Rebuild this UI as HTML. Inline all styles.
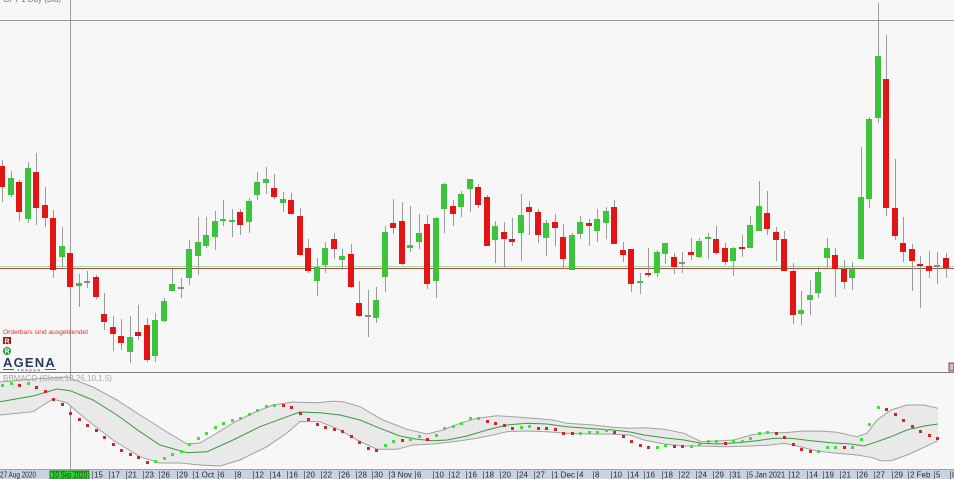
<!DOCTYPE html>
<html><head><meta charset="utf-8"><style>
html,body{margin:0;padding:0;background:#f7f7f7;}
svg{display:block;font-family:"Liberation Sans",sans-serif;}
.w{fill:#9a9a9a}.g{fill:#3cc43c}.r{fill:#e31414}.d{fill:#8a8a8a}
.dg{fill:#3fe03f}.dr{fill:#d42424}
.ax{font-size:8px;fill:#2a2a2a}
</style></head><body>
<svg width="954" height="479" viewBox="0 0 954 479" xmlns="http://www.w3.org/2000/svg" shape-rendering="crispEdges">
<rect x="0" y="0" width="954" height="479" fill="#f7f7f7"/>
<text x="3" y="2" font-size="8" fill="#777" shape-rendering="auto">GFT 1 Day (Bid)</text>
<rect x="0" y="20" width="954" height="1" fill="#9a9a9a"/>
<rect x="0" y="266" width="954" height="1" fill="#9fe09f"/>
<rect x="0" y="268" width="954" height="1" fill="#a84a4a"/>
<rect x="70" y="0" width="1" height="470" fill="#9a9a9a"/>
<g>
<rect class="w" x="2" y="160" width="1" height="42"/><rect class="r" x="-1" y="166" width="6" height="21"/>
<rect class="w" x="11" y="171" width="1" height="26"/><rect class="g" x="8" y="178" width="6" height="17"/>
<rect class="w" x="19" y="180" width="1" height="41"/><rect class="r" x="16" y="182" width="6" height="30"/>
<rect class="w" x="28" y="162" width="1" height="61"/><rect class="g" x="25" y="168" width="6" height="51"/>
<rect class="w" x="36" y="153" width="1" height="72"/><rect class="r" x="33" y="172" width="6" height="36"/>
<rect class="w" x="45" y="187" width="1" height="40"/><rect class="r" x="42" y="205" width="6" height="13"/>
<rect class="w" x="53" y="210" width="1" height="68"/><rect class="r" x="50" y="218" width="6" height="52"/>
<rect class="w" x="62" y="227" width="1" height="40"/><rect class="g" x="59" y="246" width="6" height="11"/>
<rect class="w" x="70" y="253" width="1" height="37"/><rect class="r" x="67" y="253" width="6" height="34"/>
<rect class="w" x="79" y="274" width="1" height="33"/><rect class="g" x="76" y="283" width="6" height="3"/>
<rect class="w" x="87" y="271" width="1" height="17"/><rect class="d" x="84" y="281" width="6" height="2"/>
<rect class="w" x="96" y="275" width="1" height="24"/><rect class="r" x="93" y="277" width="6" height="20"/>
<rect class="w" x="104" y="293" width="1" height="37"/><rect class="r" x="101" y="314" width="6" height="8"/>
<rect class="w" x="113" y="316" width="1" height="35"/><rect class="r" x="110" y="327" width="6" height="7"/>
<rect class="w" x="121" y="319" width="1" height="31"/><rect class="r" x="118" y="336" width="6" height="7"/>
<rect class="w" x="130" y="316" width="1" height="47"/><rect class="g" x="127" y="337" width="6" height="15"/>
<rect class="w" x="138" y="305" width="1" height="35"/><rect class="r" x="135" y="332" width="6" height="4"/>
<rect class="w" x="147" y="318" width="1" height="44"/><rect class="r" x="144" y="325" width="6" height="35"/>
<rect class="w" x="155" y="313" width="1" height="49"/><rect class="g" x="152" y="320" width="6" height="36"/>
<rect class="w" x="164" y="298" width="1" height="24"/><rect class="g" x="161" y="301" width="6" height="20"/>
<rect class="w" x="172" y="269" width="1" height="22"/><rect class="g" x="169" y="284" width="6" height="7"/>
<rect class="w" x="181" y="278" width="1" height="20"/><rect class="d" x="178" y="287" width="6" height="2"/>
<rect class="w" x="189" y="240" width="1" height="45"/><rect class="g" x="186" y="249" width="6" height="29"/>
<rect class="w" x="198" y="217" width="1" height="58"/><rect class="g" x="195" y="242" width="6" height="14"/>
<rect class="w" x="206" y="217" width="1" height="31"/><rect class="g" x="203" y="235" width="6" height="11"/>
<rect class="w" x="215" y="211" width="1" height="39"/><rect class="g" x="212" y="221" width="6" height="16"/>
<rect class="w" x="223" y="200" width="1" height="26"/><rect class="g" x="220" y="219" width="6" height="2"/>
<rect class="w" x="232" y="209" width="1" height="28"/><rect class="g" x="229" y="220" width="6" height="2"/>
<rect class="w" x="240" y="209" width="1" height="26"/><rect class="r" x="237" y="212" width="6" height="13"/>
<rect class="w" x="249" y="198" width="1" height="35"/><rect class="g" x="246" y="201" width="6" height="21"/>
<rect class="w" x="257" y="172" width="1" height="28"/><rect class="g" x="254" y="182" width="6" height="13"/>
<rect class="w" x="266" y="167" width="1" height="27"/><rect class="g" x="263" y="179" width="6" height="4"/>
<rect class="w" x="274" y="174" width="1" height="25"/><rect class="r" x="271" y="188" width="6" height="9"/>
<rect class="w" x="283" y="192" width="1" height="20"/><rect class="g" x="280" y="199" width="6" height="4"/>
<rect class="w" x="291" y="193" width="1" height="21"/><rect class="r" x="288" y="200" width="6" height="14"/>
<rect class="w" x="300" y="208" width="1" height="48"/><rect class="r" x="297" y="216" width="6" height="39"/>
<rect class="w" x="308" y="239" width="1" height="34"/><rect class="r" x="305" y="248" width="6" height="23"/>
<rect class="w" x="317" y="258" width="1" height="38"/><rect class="g" x="314" y="267" width="6" height="14"/>
<rect class="w" x="325" y="242" width="1" height="31"/><rect class="g" x="322" y="248" width="6" height="17"/>
<rect class="w" x="334" y="233" width="1" height="26"/><rect class="r" x="331" y="239" width="6" height="10"/>
<rect class="w" x="342" y="249" width="1" height="21"/><rect class="g" x="339" y="256" width="6" height="4"/>
<rect class="w" x="351" y="244" width="1" height="44"/><rect class="r" x="348" y="254" width="6" height="33"/>
<rect class="w" x="359" y="281" width="1" height="36"/><rect class="r" x="356" y="303" width="6" height="13"/>
<rect class="w" x="368" y="290" width="1" height="47"/><rect class="d" x="365" y="315" width="6" height="2"/>
<rect class="w" x="376" y="287" width="1" height="36"/><rect class="g" x="373" y="300" width="6" height="18"/>
<rect class="w" x="385" y="226" width="1" height="66"/><rect class="g" x="382" y="232" width="6" height="45"/>
<rect class="w" x="393" y="199" width="1" height="35"/><rect class="r" x="390" y="223" width="6" height="5"/>
<rect class="w" x="402" y="202" width="1" height="63"/><rect class="r" x="399" y="221" width="6" height="43"/>
<rect class="w" x="410" y="206" width="1" height="46"/><rect class="g" x="407" y="245" width="6" height="3"/>
<rect class="w" x="419" y="214" width="1" height="35"/><rect class="g" x="416" y="233" width="6" height="9"/>
<rect class="w" x="427" y="215" width="1" height="74"/><rect class="r" x="424" y="224" width="6" height="60"/>
<rect class="w" x="436" y="217" width="1" height="81"/><rect class="g" x="433" y="218" width="6" height="63"/>
<rect class="w" x="444" y="183" width="1" height="50"/><rect class="g" x="441" y="184" width="6" height="25"/>
<rect class="w" x="453" y="200" width="1" height="26"/><rect class="r" x="450" y="206" width="6" height="8"/>
<rect class="w" x="461" y="191" width="1" height="26"/><rect class="g" x="458" y="194" width="6" height="13"/>
<rect class="w" x="470" y="179" width="1" height="33"/><rect class="g" x="467" y="179" width="6" height="10"/>
<rect class="w" x="478" y="184" width="1" height="24"/><rect class="r" x="475" y="187" width="6" height="18"/>
<rect class="w" x="487" y="195" width="1" height="51"/><rect class="r" x="484" y="197" width="6" height="49"/>
<rect class="w" x="495" y="221" width="1" height="42"/><rect class="g" x="492" y="226" width="6" height="14"/>
<rect class="w" x="504" y="222" width="1" height="47"/><rect class="r" x="501" y="232" width="6" height="7"/>
<rect class="w" x="512" y="218" width="1" height="28"/><rect class="r" x="509" y="239" width="6" height="3"/>
<rect class="w" x="521" y="194" width="1" height="67"/><rect class="g" x="518" y="215" width="6" height="18"/>
<rect class="w" x="529" y="201" width="1" height="34"/><rect class="r" x="526" y="207" width="6" height="5"/>
<rect class="w" x="538" y="209" width="1" height="34"/><rect class="r" x="535" y="212" width="6" height="23"/>
<rect class="w" x="546" y="220" width="1" height="36"/><rect class="g" x="543" y="223" width="6" height="15"/>
<rect class="w" x="555" y="214" width="1" height="32"/><rect class="r" x="552" y="222" width="6" height="6"/>
<rect class="w" x="563" y="224" width="1" height="45"/><rect class="r" x="560" y="237" width="6" height="22"/>
<rect class="w" x="572" y="233" width="1" height="37"/><rect class="g" x="569" y="235" width="6" height="35"/>
<rect class="w" x="580" y="216" width="1" height="23"/><rect class="g" x="577" y="222" width="6" height="12"/>
<rect class="w" x="589" y="219" width="1" height="27"/><rect class="r" x="586" y="223" width="6" height="3"/>
<rect class="w" x="597" y="209" width="1" height="33"/><rect class="g" x="594" y="219" width="6" height="12"/>
<rect class="w" x="606" y="207" width="1" height="32"/><rect class="g" x="603" y="211" width="6" height="12"/>
<rect class="w" x="614" y="200" width="1" height="44"/><rect class="r" x="611" y="207" width="6" height="37"/>
<rect class="w" x="623" y="242" width="1" height="20"/><rect class="r" x="620" y="250" width="6" height="5"/>
<rect class="w" x="631" y="249" width="1" height="43"/><rect class="r" x="628" y="249" width="6" height="35"/>
<rect class="w" x="640" y="273" width="1" height="21"/><rect class="g" x="637" y="281" width="6" height="2"/>
<rect class="w" x="648" y="248" width="1" height="29"/><rect class="r" x="645" y="273" width="6" height="2"/>
<rect class="w" x="657" y="250" width="1" height="27"/><rect class="g" x="654" y="252" width="6" height="21"/>
<rect class="w" x="665" y="243" width="1" height="21"/><rect class="g" x="662" y="243" width="6" height="11"/>
<rect class="w" x="674" y="253" width="1" height="21"/><rect class="r" x="671" y="257" width="6" height="10"/>
<rect class="w" x="682" y="252" width="1" height="21"/><rect class="d" x="679" y="262" width="6" height="2"/>
<rect class="w" x="691" y="238" width="1" height="22"/><rect class="r" x="688" y="252" width="6" height="3"/>
<rect class="w" x="699" y="238" width="1" height="20"/><rect class="g" x="696" y="241" width="6" height="16"/>
<rect class="w" x="708" y="233" width="1" height="26"/><rect class="g" x="705" y="237" width="6" height="2"/>
<rect class="w" x="716" y="226" width="1" height="28"/><rect class="r" x="713" y="239" width="6" height="14"/>
<rect class="w" x="725" y="243" width="1" height="22"/><rect class="r" x="722" y="248" width="6" height="14"/>
<rect class="w" x="733" y="247" width="1" height="29"/><rect class="g" x="730" y="248" width="6" height="13"/>
<rect class="w" x="742" y="235" width="1" height="22"/><rect class="r" x="739" y="247" width="6" height="2"/>
<rect class="w" x="750" y="216" width="1" height="32"/><rect class="g" x="747" y="225" width="6" height="23"/>
<rect class="w" x="759" y="181" width="1" height="50"/><rect class="g" x="756" y="206" width="6" height="25"/>
<rect class="w" x="767" y="191" width="1" height="44"/><rect class="r" x="764" y="213" width="6" height="16"/>
<rect class="w" x="776" y="227" width="1" height="34"/><rect class="r" x="773" y="232" width="6" height="8"/>
<rect class="w" x="784" y="231" width="1" height="40"/><rect class="r" x="781" y="239" width="6" height="32"/>
<rect class="w" x="793" y="263" width="1" height="61"/><rect class="r" x="790" y="271" width="6" height="44"/>
<rect class="w" x="801" y="291" width="1" height="34"/><rect class="g" x="798" y="310" width="6" height="4"/>
<rect class="w" x="810" y="280" width="1" height="35"/><rect class="g" x="807" y="295" width="6" height="5"/>
<rect class="w" x="818" y="267" width="1" height="31"/><rect class="g" x="815" y="272" width="6" height="21"/>
<rect class="w" x="827" y="238" width="1" height="31"/><rect class="g" x="824" y="248" width="6" height="10"/>
<rect class="w" x="835" y="248" width="1" height="49"/><rect class="r" x="832" y="255" width="6" height="14"/>
<rect class="w" x="844" y="260" width="1" height="29"/><rect class="r" x="841" y="269" width="6" height="13"/>
<rect class="w" x="852" y="262" width="1" height="28"/><rect class="g" x="849" y="269" width="6" height="9"/>
<rect class="w" x="861" y="147" width="1" height="112"/><rect class="g" x="858" y="197" width="6" height="62"/>
<rect class="w" x="869" y="117" width="1" height="91"/><rect class="g" x="866" y="119" width="6" height="80"/>
<rect class="w" x="878" y="3" width="1" height="120"/><rect class="g" x="875" y="56" width="6" height="62"/>
<rect class="w" x="886" y="35" width="1" height="181"/><rect class="r" x="883" y="79" width="6" height="129"/>
<rect class="w" x="895" y="159" width="1" height="81"/><rect class="r" x="892" y="208" width="6" height="28"/>
<rect class="w" x="903" y="217" width="1" height="45"/><rect class="r" x="900" y="243" width="6" height="9"/>
<rect class="w" x="912" y="244" width="1" height="47"/><rect class="r" x="909" y="249" width="6" height="12"/>
<rect class="w" x="920" y="256" width="1" height="52"/><rect class="r" x="917" y="264" width="6" height="2"/>
<rect class="w" x="929" y="251" width="1" height="27"/><rect class="r" x="926" y="266" width="6" height="5"/>
<rect class="w" x="937" y="252" width="1" height="32"/><rect class="d" x="934" y="265" width="6" height="2"/>
<rect class="w" x="946" y="253" width="1" height="25"/><rect class="r" x="943" y="258" width="6" height="10"/>
</g>
<g shape-rendering="auto">
<text x="3" y="334" font-size="6.6" fill="#e03030">Orderbars sind ausgeblendet</text>
<rect x="3" y="337" width="8" height="7" fill="#9b1b1b"/>
<text x="7" y="343.5" font-size="7" font-weight="bold" fill="#fff" text-anchor="middle">R</text>
<circle cx="7" cy="351" r="4" fill="#2a9a3a"/>
<text x="7" y="353.6" font-size="7" font-weight="bold" fill="#fff" text-anchor="middle">R</text>
<text x="3" y="367" font-size="13" font-weight="bold" fill="#2b3a5c" letter-spacing="1.2">AGENA</text>
<rect x="3" y="369" width="11" height="0.8" fill="#2b3a5c"/>
<rect x="45" y="369" width="11" height="0.8" fill="#2b3a5c"/>
<text x="29.5" y="371.3" font-size="3.6" fill="#2b3a5c" text-anchor="middle" letter-spacing="1.6">TRADER</text>
</g>
<rect x="0" y="372" width="954" height="1" fill="#808080"/>
<rect x="949" y="363" width="5" height="8" fill="#e8b0b8" stroke="#555" stroke-width="1"/>
<g shape-rendering="auto">
<polygon fill="#e9e9e9" points="0,382 33,379 67,377 93,387 117,400 140,415 167,432 187,444 200,443 217,433 233,423 253,413 273,405 293,402 317,402.7 333,401.3 343,401.7 360,406.7 383,420 407,429.3 427,434 443,430 460,423.3 477,418.3 497,415.7 513,416.7 533,418.3 553,420 567,423.3 593,425 613,427.3 630,428.3 644,427.7 664,429.3 684,433.3 701,441.7 717,441 734,440 751,435 767,432.7 784,432.7 804,431 824,431.3 837,432.3 857,436.7 867,433.3 877,420 891,410 907,405 924,405 938,408.3 938,440.7 924,447.3 907,455 891,460.7 881,460.7 871,457.3 857,455 837,453.3 817,451 797,446 784,443.3 771,445 751,446 724,446.7 701,446 684,446 664,444 644,440 630,435 613,434.3 593,434 567,433.3 547,431.7 527,431 507,431.7 493,435 477,438.3 453,441.7 433,444 413,445 397,449.3 377,449.3 357,440 340,430 320,421.7 300,421.5 287,433 267,446.7 240,460 220,466 200,465 180,463 160,463 140,456.7 113,440 87,420 67,403 53,399 33,411.7 0,415"/>
<polyline fill="none" stroke="#a0a0a0" stroke-width="1" points="0,382 33,379 67,377 93,387 117,400 140,415 167,432 187,444 200,443 217,433 233,423 253,413 273,405 293,402 317,402.7 333,401.3 343,401.7 360,406.7 383,420 407,429.3 427,434 443,430 460,423.3 477,418.3 497,415.7 513,416.7 533,418.3 553,420 567,423.3 593,425 613,427.3 630,428.3 644,427.7 664,429.3 684,433.3 701,441.7 717,441 734,440 751,435 767,432.7 784,432.7 804,431 824,431.3 837,432.3 857,436.7 867,433.3 877,420 891,410 907,405 924,405 938,408.3"/>
<polyline fill="none" stroke="#a0a0a0" stroke-width="1" points="0,415 33,411.7 53,399 67,403 87,420 113,440 140,456.7 160,463 180,463 200,465 220,466 240,460 267,446.7 287,433 300,421.5 320,421.7 340,430 357,440 377,449.3 397,449.3 413,445 433,444 453,441.7 477,438.3 493,435 507,431.7 527,431 547,431.7 567,433.3 593,434 613,434.3 630,435 644,440 664,444 684,446 701,446 724,446.7 751,446 771,445 784,443.3 797,446 817,451 837,453.3 857,455 871,457.3 881,460.7 891,460.7 907,455 924,447.3 938,440.7"/>
<polyline fill="none" stroke="#3c9a3c" stroke-width="1" points="0,401.7 33,396 57,389 70,390.7 93,400 117,415 140,431.7 160,445 187,452.7 207,451.7 233,440 260,426.7 287,416.7 300,412 320,412.7 340,415 360,420 380,428.3 400,436 417,439.3 433,440.7 447,440 467,436 487,430 507,425 527,423.3 547,424 567,426.7 593,428.7 613,430 630,432 644,435 664,437.7 684,440 701,443.3 717,444 737,442.7 757,440.7 774,438.3 791,438.3 811,440.7 831,442.7 851,444 864,446 877,441.7 891,436.7 907,430 924,426 938,424"/>
<text x="3" y="381" font-size="8" fill="#a8a8a8">BBMACD (Close,12,26,10,1.5)</text>
</g>
<g>
<rect class="dg" x="1" y="384" width="3" height="3"/>
<rect class="dg" x="10" y="382" width="3" height="3"/>
<rect class="dr" x="18" y="384" width="3" height="3"/>
<rect class="dg" x="27" y="382" width="3" height="3"/>
<rect class="dr" x="35" y="386" width="3" height="3"/>
<rect class="dr" x="44" y="390" width="3" height="3"/>
<rect class="dr" x="52" y="398" width="3" height="3"/>
<rect class="dr" x="61" y="403" width="3" height="3"/>
<rect class="dr" x="69" y="412" width="3" height="3"/>
<rect class="dr" x="78" y="418" width="3" height="3"/>
<rect class="dr" x="86" y="424" width="3" height="3"/>
<rect class="dr" x="95" y="429" width="3" height="3"/>
<rect class="dr" x="103" y="436" width="3" height="3"/>
<rect class="dr" x="112" y="443" width="3" height="3"/>
<rect class="dr" x="120" y="449" width="3" height="3"/>
<rect class="dr" x="129" y="453" width="3" height="3"/>
<rect class="dr" x="137" y="456" width="3" height="3"/>
<rect class="dr" x="146" y="461" width="3" height="3"/>
<rect class="dg" x="154" y="460" width="3" height="3"/>
<rect class="dg" x="163" y="457" width="3" height="3"/>
<rect class="dg" x="171" y="453" width="3" height="3"/>
<rect class="dg" x="180" y="450" width="3" height="3"/>
<rect class="dg" x="188" y="443" width="3" height="3"/>
<rect class="dg" x="197" y="437" width="3" height="3"/>
<rect class="dg" x="205" y="432" width="3" height="3"/>
<rect class="dg" x="214" y="426" width="3" height="3"/>
<rect class="dg" x="222" y="422" width="3" height="3"/>
<rect class="dg" x="231" y="419" width="3" height="3"/>
<rect class="dg" x="239" y="417" width="3" height="3"/>
<rect class="dg" x="248" y="413" width="3" height="3"/>
<rect class="dg" x="256" y="409" width="3" height="3"/>
<rect class="dg" x="265" y="405" width="3" height="3"/>
<rect class="dg" x="273" y="404" width="3" height="3"/>
<rect class="dr" x="282" y="404" width="3" height="3"/>
<rect class="dr" x="290" y="406" width="3" height="3"/>
<rect class="dr" x="299" y="412" width="3" height="3"/>
<rect class="dr" x="307" y="418" width="3" height="3"/>
<rect class="dr" x="316" y="423" width="3" height="3"/>
<rect class="dr" x="324" y="426" width="3" height="3"/>
<rect class="dr" x="333" y="428" width="3" height="3"/>
<rect class="dr" x="341" y="430" width="3" height="3"/>
<rect class="dr" x="350" y="435" width="3" height="3"/>
<rect class="dr" x="358" y="441" width="3" height="3"/>
<rect class="dr" x="367" y="447" width="3" height="3"/>
<rect class="dr" x="375" y="449" width="3" height="3"/>
<rect class="dg" x="384" y="444" width="3" height="3"/>
<rect class="dg" x="392" y="440" width="3" height="3"/>
<rect class="dr" x="401" y="439" width="3" height="3"/>
<rect class="dg" x="409" y="438" width="3" height="3"/>
<rect class="dg" x="418" y="435" width="3" height="3"/>
<rect class="dr" x="426" y="438" width="3" height="3"/>
<rect class="dg" x="435" y="434" width="3" height="3"/>
<rect class="dg" x="443" y="427" width="3" height="3"/>
<rect class="dg" x="452" y="425" width="3" height="3"/>
<rect class="dg" x="460" y="422" width="3" height="3"/>
<rect class="dg" x="469" y="417" width="3" height="3"/>
<rect class="dg" x="477" y="417" width="3" height="3"/>
<rect class="dr" x="486" y="420" width="3" height="3"/>
<rect class="dr" x="494" y="422" width="3" height="3"/>
<rect class="dr" x="503" y="424" width="3" height="3"/>
<rect class="dr" x="511" y="427" width="3" height="3"/>
<rect class="dg" x="520" y="426" width="3" height="3"/>
<rect class="dg" x="528" y="425" width="3" height="3"/>
<rect class="dr" x="537" y="427" width="3" height="3"/>
<rect class="dr" x="545" y="427" width="3" height="3"/>
<rect class="dr" x="554" y="428" width="3" height="3"/>
<rect class="dr" x="562" y="432" width="3" height="3"/>
<rect class="dr" x="571" y="432" width="3" height="3"/>
<rect class="dg" x="579" y="432" width="3" height="3"/>
<rect class="dg" x="588" y="431" width="3" height="3"/>
<rect class="dg" x="596" y="431" width="3" height="3"/>
<rect class="dg" x="605" y="429" width="3" height="3"/>
<rect class="dr" x="613" y="431" width="3" height="3"/>
<rect class="dr" x="622" y="435" width="3" height="3"/>
<rect class="dr" x="630" y="440" width="3" height="3"/>
<rect class="dr" x="639" y="444" width="3" height="3"/>
<rect class="dr" x="647" y="446" width="3" height="3"/>
<rect class="dg" x="656" y="446" width="3" height="3"/>
<rect class="dg" x="664" y="444" width="3" height="3"/>
<rect class="dr" x="673" y="445" width="3" height="3"/>
<rect class="dr" x="681" y="445" width="3" height="3"/>
<rect class="dg" x="690" y="445" width="3" height="3"/>
<rect class="dg" x="698" y="443" width="3" height="3"/>
<rect class="dg" x="707" y="440" width="3" height="3"/>
<rect class="dg" x="715" y="440" width="3" height="3"/>
<rect class="dr" x="724" y="442" width="3" height="3"/>
<rect class="dg" x="732" y="440" width="3" height="3"/>
<rect class="dg" x="741" y="440" width="3" height="3"/>
<rect class="dg" x="749" y="437" width="3" height="3"/>
<rect class="dg" x="758" y="432" width="3" height="3"/>
<rect class="dg" x="766" y="431" width="3" height="3"/>
<rect class="dr" x="775" y="432" width="3" height="3"/>
<rect class="dr" x="783" y="436" width="3" height="3"/>
<rect class="dr" x="792" y="443" width="3" height="3"/>
<rect class="dr" x="800" y="448" width="3" height="3"/>
<rect class="dr" x="809" y="450" width="3" height="3"/>
<rect class="dg" x="817" y="450" width="3" height="3"/>
<rect class="dg" x="826" y="446" width="3" height="3"/>
<rect class="dg" x="834" y="446" width="3" height="3"/>
<rect class="dr" x="843" y="446" width="3" height="3"/>
<rect class="dg" x="851" y="446" width="3" height="3"/>
<rect class="dg" x="860" y="438" width="3" height="3"/>
<rect class="dg" x="868" y="423" width="3" height="3"/>
<rect class="dg" x="877" y="406" width="3" height="3"/>
<rect class="dr" x="885" y="408" width="3" height="3"/>
<rect class="dr" x="894" y="413" width="3" height="3"/>
<rect class="dr" x="902" y="419" width="3" height="3"/>
<rect class="dr" x="911" y="425" width="3" height="3"/>
<rect class="dr" x="919" y="430" width="3" height="3"/>
<rect class="dr" x="928" y="434" width="3" height="3"/>
<rect class="dr" x="936" y="437" width="3" height="3"/>
</g>
<rect x="0" y="469" width="954" height="10" fill="#c9d2e3"/>
<rect x="0" y="469" width="954" height="1" fill="#9aa3b3"/>
<rect x="50" y="471" width="39" height="8" fill="#22dd22" stroke="#1a7a1a" stroke-width="1"/>
<g fill="#6a6f7a">
<rect x="92" y="471" width="1" height="8"/><rect x="109" y="471" width="1" height="8"/><rect x="126" y="471" width="1" height="8"/><rect x="143" y="471" width="1" height="8"/><rect x="159" y="471" width="1" height="8"/><rect x="177" y="471" width="1" height="8"/><rect x="193" y="471" width="1" height="8"/><rect x="218" y="471" width="1" height="8"/><rect x="235" y="471" width="1" height="8"/><rect x="253" y="471" width="1" height="8"/><rect x="270" y="471" width="1" height="8"/><rect x="287" y="471" width="1" height="8"/><rect x="304" y="471" width="1" height="8"/><rect x="321" y="471" width="1" height="8"/><rect x="339" y="471" width="1" height="8"/><rect x="356" y="471" width="1" height="8"/><rect x="372" y="471" width="1" height="8"/><rect x="389" y="471" width="1" height="8"/><rect x="415" y="471" width="1" height="8"/><rect x="433" y="471" width="1" height="8"/><rect x="449" y="471" width="1" height="8"/><rect x="466" y="471" width="1" height="8"/><rect x="483" y="471" width="1" height="8"/><rect x="500" y="471" width="1" height="8"/><rect x="517" y="471" width="1" height="8"/><rect x="534" y="471" width="1" height="8"/><rect x="552" y="471" width="1" height="8"/><rect x="577" y="471" width="1" height="8"/><rect x="593" y="471" width="1" height="8"/><rect x="611" y="471" width="1" height="8"/><rect x="628" y="471" width="1" height="8"/><rect x="644" y="471" width="1" height="8"/><rect x="662" y="471" width="1" height="8"/><rect x="679" y="471" width="1" height="8"/><rect x="696" y="471" width="1" height="8"/><rect x="713" y="471" width="1" height="8"/><rect x="730" y="471" width="1" height="8"/><rect x="747" y="471" width="1" height="8"/><rect x="789" y="471" width="1" height="8"/><rect x="807" y="471" width="1" height="8"/><rect x="823" y="471" width="1" height="8"/><rect x="840" y="471" width="1" height="8"/><rect x="857" y="471" width="1" height="8"/><rect x="874" y="471" width="1" height="8"/><rect x="892" y="471" width="1" height="8"/><rect x="908" y="471" width="1" height="8"/><rect x="934" y="471" width="1" height="8"/><rect x="950" y="471" width="1" height="8"/>
</g>
<g shape-rendering="auto">
<text x="0" y="477.5" class="ax" textLength="36" lengthAdjust="spacingAndGlyphs">27 Aug 2020</text>
<text x="52" y="477.5" class="ax" textLength="35" lengthAdjust="spacingAndGlyphs">10 Sep 2020</text>
<text x="94" y="477.5" class="ax">15</text><text x="111" y="477.5" class="ax">17</text><text x="128" y="477.5" class="ax">21</text><text x="145" y="477.5" class="ax">23</text><text x="161" y="477.5" class="ax">26</text><text x="179" y="477.5" class="ax">29</text><text x="195" y="477.5" class="ax">1 Oct</text><text x="220" y="477.5" class="ax">6</text><text x="237" y="477.5" class="ax">8</text><text x="255" y="477.5" class="ax">12</text><text x="272" y="477.5" class="ax">14</text><text x="289" y="477.5" class="ax">16</text><text x="306" y="477.5" class="ax">20</text><text x="323" y="477.5" class="ax">22</text><text x="341" y="477.5" class="ax">26</text><text x="358" y="477.5" class="ax">28</text><text x="374" y="477.5" class="ax">30</text><text x="391" y="477.5" class="ax">3 Nov</text><text x="417" y="477.5" class="ax">6</text><text x="435" y="477.5" class="ax">10</text><text x="451" y="477.5" class="ax">12</text><text x="468" y="477.5" class="ax">16</text><text x="485" y="477.5" class="ax">18</text><text x="502" y="477.5" class="ax">20</text><text x="519" y="477.5" class="ax">24</text><text x="536" y="477.5" class="ax">27</text><text x="554" y="477.5" class="ax">1 Dec</text><text x="579" y="477.5" class="ax">4</text><text x="595" y="477.5" class="ax">8</text><text x="613" y="477.5" class="ax">10</text><text x="630" y="477.5" class="ax">14</text><text x="646" y="477.5" class="ax">16</text><text x="664" y="477.5" class="ax">18</text><text x="681" y="477.5" class="ax">22</text><text x="698" y="477.5" class="ax">24</text><text x="715" y="477.5" class="ax">29</text><text x="732" y="477.5" class="ax">31</text><text x="749" y="477.5" class="ax" textLength="36" lengthAdjust="spacingAndGlyphs">5 Jan 2021</text><text x="791" y="477.5" class="ax">12</text><text x="809" y="477.5" class="ax">14</text><text x="825" y="477.5" class="ax">19</text><text x="842" y="477.5" class="ax">21</text><text x="859" y="477.5" class="ax">26</text><text x="876" y="477.5" class="ax">27</text><text x="894" y="477.5" class="ax">29</text><text x="910" y="477.5" class="ax">2 Feb</text><text x="936" y="477.5" class="ax">5</text><text x="952" y="477.5" class="ax">8</text>
</g>
</svg>
</body></html>
